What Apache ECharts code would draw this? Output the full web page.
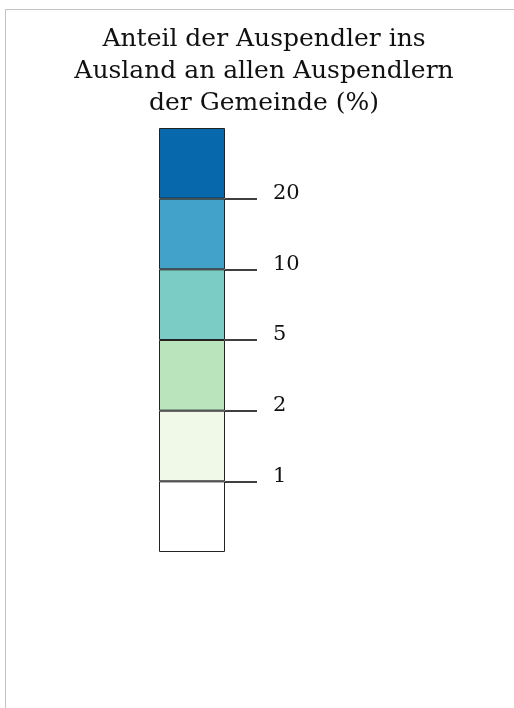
<!DOCTYPE html>
<html>
<head>
<meta charset="utf-8">
<script src="https://cdn.jsdelivr.net/npm/echarts@6/dist/echarts.min.js"></script>
<style>
  html, body { margin: 0; padding: 0; background: #fff; }
  #frame { position: absolute; left: 5px; top: 9px; width: 509px; height: 699px;
           border-left: 1px solid #c4c4c4; border-top: 1px solid #c4c4c4; box-sizing: border-box; }
  #chart { position: absolute; left: 0; top: 0; width: 514px; height: 708px; }
</style>
</head>
<body>
<div id="frame"></div>
<div id="chart"></div>
<script>
// class breaks (%) between the legend boxes, bottom to top
const thresholds = [1, 2, 5, 10, 20]
// one box per class, bottom (< 1 %) to top (> 20 %)
const classNames = ['< 1', '1 - 2', '2 - 5', '5 - 10', '10 - 20', '> 20']
const classColors = ['#ffffff', '#f0f9e8', '#bae4bc', '#7bccc4', '#43a2ca', '#0868ac']
const classSize = [1, 1, 1, 1, 1, 1]

const titleText = 'Anteil der Auspendler ins\nAusland an allen Auspendlern\nder Gemeinde (%)'

const chart = echarts.init(document.getElementById('chart'))

const series = classNames.map(function (name, i) {
  return {
    name: name,
    type: 'bar',
    stack: 'legend',
    barWidth: '100%',
    silent: true,
    itemStyle: {
      color: classColors[i],
      borderColor: '#222',
      borderWidth: 1
    },
    data: [classSize[i]]
  }
})

chart.setOption({
  animation: false,
  backgroundColor: 'transparent',
  title: {
    text: titleText,
    left: 259,
    top: 18,
    textAlign: 'center',
    textStyle: {
      fontFamily: 'DejaVu Serif',
      fontWeight: 'normal',
      fontSize: 25,
      lineHeight: 32,
      color: '#111'
    }
  },
  grid: {
    left: 159,
    right: 289,
    top: 128,
    bottom: 156
  },
  xAxis: {
    type: 'category',
    data: [''],
    show: false
  },
  yAxis: {
    type: 'value',
    position: 'right',
    min: 0,
    max: classNames.length,
    interval: 1,
    splitLine: { show: false },
    axisLine: { show: false },
    axisTick: {
      show: true,
      length: 32,
      lineStyle: { color: '#000', width: 1.5 },
      customValues: thresholds.map(function (t, i) { return i + 1 })
    },
    axisLabel: {
      margin: 48,
      fontFamily: 'DejaVu Serif',
      fontSize: 21,
      color: '#111',
      verticalAlign: 'bottom',
      lineHeight: 10,
      customValues: thresholds.map(function (t, i) { return i + 1 }),
      formatter: function (v) {
        return thresholds[v - 1] !== undefined ? String(thresholds[v - 1]) : ''
      }
    }
  },
  series: series
})
</script>
</body>
</html>
